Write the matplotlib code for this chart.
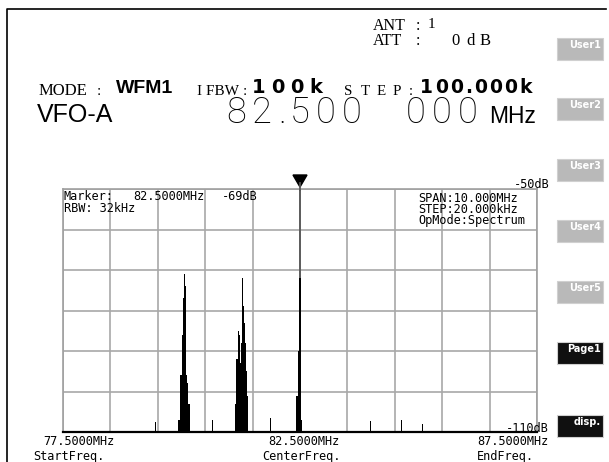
import numpy as np
import matplotlib
matplotlib.use('Agg')
import matplotlib.pyplot as plt
import matplotlib.patches as patches

# spectrum bins that rise above the -110 dB floor (MHz, dB)
peak1_freq = [79.94, 79.96, 79.98, 80.00, 80.02, 80.04, 80.06, 80.08, 80.10, 80.12, 80.14, 80.16]
peak1_db = [-107, -107, -96, -96, -86, -77, -71, -74, -96, -98, -103, -103]
peak2_freq = [81.14, 81.16, 81.18, 81.20, 81.22, 81.24, 81.26, 81.28, 81.30, 81.32, 81.34, 81.36, 81.38, 81.40]
peak2_db = [-103, -92, -92, -85, -86, -93, -88, -72, -79, -83, -88, -93, -95, -101]
peak3_freq = [82.42, 82.44, 82.46, 82.48, 82.50, 82.52, 82.54]
peak3_db = [-101, -101, -90, -76, -72, -88, -107]
spur_freq = [79.46, 80.66, 81.88, 83.98, 84.64, 85.08]
spur_db = [-107.5, -107, -106.5, -107.3, -107, -108]

freq_start, freq_center, freq_end = 77.5, 82.5, 87.5
db_top, db_floor = -50, -110
marker_freq = 82.5

buttons = ['User1', 'User2', 'User3', 'User4', 'User5', 'Page1', 'disp.']
button_top = [38, 98, 159, 220, 281, 342, 415]
button_dark = [False, False, False, False, False, True, True]

W, H = 609, 462
fig = plt.figure(figsize=(W / 100, H / 100), dpi=100)
fig.patch.set_facecolor('white')

# spectrum panel
ax = fig.add_axes([63 / W, (H - 432) / H, 474 / W, 243 / H])
ax.set_xlim(freq_start, freq_end)
ax.set_ylim(db_floor, db_top)
ax.set_xticks(np.linspace(freq_start, freq_end, 11))
ax.set_yticks(np.arange(db_floor, db_top + 1, 10))
ax.tick_params(length=0, labelbottom=False, labelleft=False)
ax.grid(True, color='#a8a8a8', lw=1.2)
ax.set_axisbelow(True)
for side in ['top', 'left', 'right']:
    ax.spines[side].set_color('#a0a0a0')
    ax.spines[side].set_linewidth(1.2)
ax.spines['bottom'].set_color('black')
ax.spines['bottom'].set_linewidth(1.6)

ax.axvline(marker_freq, color='#555555', lw=1.3, zorder=1.5)
freqs = np.array(peak1_freq + peak2_freq + peak3_freq + spur_freq)
levels = np.array(peak1_db + peak2_db + peak3_db + spur_db)
ax.bar(freqs, levels - db_floor, bottom=db_floor, width=0.022,
       color='black', linewidth=0, antialiased=False, zorder=2)

# overlay in pixel coordinates (y down) for the receiver screen
ui = fig.add_axes([0, 0, 1, 1])
ui.set_xlim(0, W)
ui.set_ylim(H, 0)
ui.axis('off')
ui.set_zorder(5)

ui.plot([7, 7, 606], [H, 9, 9], color='black', lw=1.2)

serif = dict(family='Liberation Serif', color='black', va='baseline', ha='left')
bold = dict(family='Liberation Sans', weight='bold', color='black', va='baseline', ha='left')
bold_digits = dict(family='DejaVu Sans', weight='bold', color='black', va='baseline', ha='left')
sans = dict(family='Liberation Sans', color='black', va='baseline', ha='left')
mono = dict(family='DejaVu Sans Mono', color='black', fontsize=8.6)


def spaced(xs, y, s, **kw):
    for x, ch in zip(xs, s):
        ui.text(x, y, ch, **kw)


# antenna / attenuator
ui.text(373, 30, 'ANT', fontsize=11.5, **serif)
ui.text(416, 30, ':', fontsize=11.5, **serif)
ui.text(428, 28, '1', fontsize=11, **serif)
ui.text(373, 45, 'ATT', fontsize=11.5, **serif)
ui.text(416, 45, ':', fontsize=11.5, **serif)
spaced([451, 466, 480], 45, '0dB', fontsize=12, **serif)

# mode line
ui.text(39, 95, 'MODE', fontsize=12, **serif)
ui.text(97, 95, ':', fontsize=11, **serif)
ui.text(116, 93, 'WFM1', fontsize=14, **bold)
ui.text(197, 95, 'I FBW', fontsize=11, **serif)
ui.text(243, 95, ':', fontsize=11, **serif)
spaced([252, 271, 290, 309], 93, '100k', fontsize=14, **bold_digits)
spaced([344, 361, 377, 393], 95, 'STEP', fontsize=10.8, **serif)
ui.text(409, 95, ':', fontsize=10.8, **serif)
spaced([420, 435, 450, 465, 474, 489, 504, 519], 93, '100.000k', fontsize=13.5, **bold_digits)

# VFO and frequency readout
ui.text(37, 122, 'VFO-A', fontsize=18, **sans)
spaced([226, 252, 278, 290, 316, 342, 406, 432, 458], 123, '82.500000',
       family='Roboto', weight='light', fontsize=26, color='black', va='baseline', ha='left')
ui.text(489, 123, 'MHz', fontsize=16.5, **sans)

# side buttons
for name, top, dark in zip(buttons, button_top, button_dark):
    face = '#101010' if dark else '#b9b9b9'
    ui.add_patch(patches.Rectangle((557, top), 46, 22, facecolor=face,
                                   edgecolor='#d0d0d0', lw=0.8))
    ui.text(601, top + 2, name, family='DejaVu Sans', weight='bold', fontsize=7,
            color='white', ha='right', va='top')

# marker triangle and tail above panel
ui.plot([300, 300], [183, 190], color='#555555', lw=1.3)
ui.add_patch(patches.Polygon([(293, 175), (307, 175), (300, 187)], closed=True, color='black'))

ui.text(64, 190, 'Marker:', va='top', ha='left', **mono)
ui.text(133, 190, '82.5000MHz', va='top', ha='left', **mono)
ui.text(222, 190, '-69dB', va='top', ha='left', **mono)
ui.text(64, 202, 'RBW: 32kHz', va='top', ha='left', **mono)
ui.text(418, 192, 'SPAN:10.000MHz', va='top', ha='left', **mono)
ui.text(418, 203, 'STEP:20.000kHz', va='top', ha='left', **mono)
ui.text(418, 214, 'OpMode:Spectrum', va='top', ha='left', **mono)

ui.text(549, 188, '-50dB', va='baseline', ha='right', **mono)
ui.text(549, 432, '-110dB', va='baseline', ha='right', **mono)

ui.text(43, 445, '77.5000MHz', va='baseline', ha='left', **mono)
ui.text(33, 460, 'StartFreq.', va='baseline', ha='left', **mono)
ui.text(268, 445, '82.5000MHz', va='baseline', ha='left', **mono)
ui.text(262, 460, 'CenterFreq.', va='baseline', ha='left', **mono)
ui.text(549, 445, '87.5000MHz', va='baseline', ha='right', **mono)
ui.text(477, 460, 'EndFreq.', va='baseline', ha='left', **mono)

fig.savefig('out.png', dpi=100, facecolor='white')
